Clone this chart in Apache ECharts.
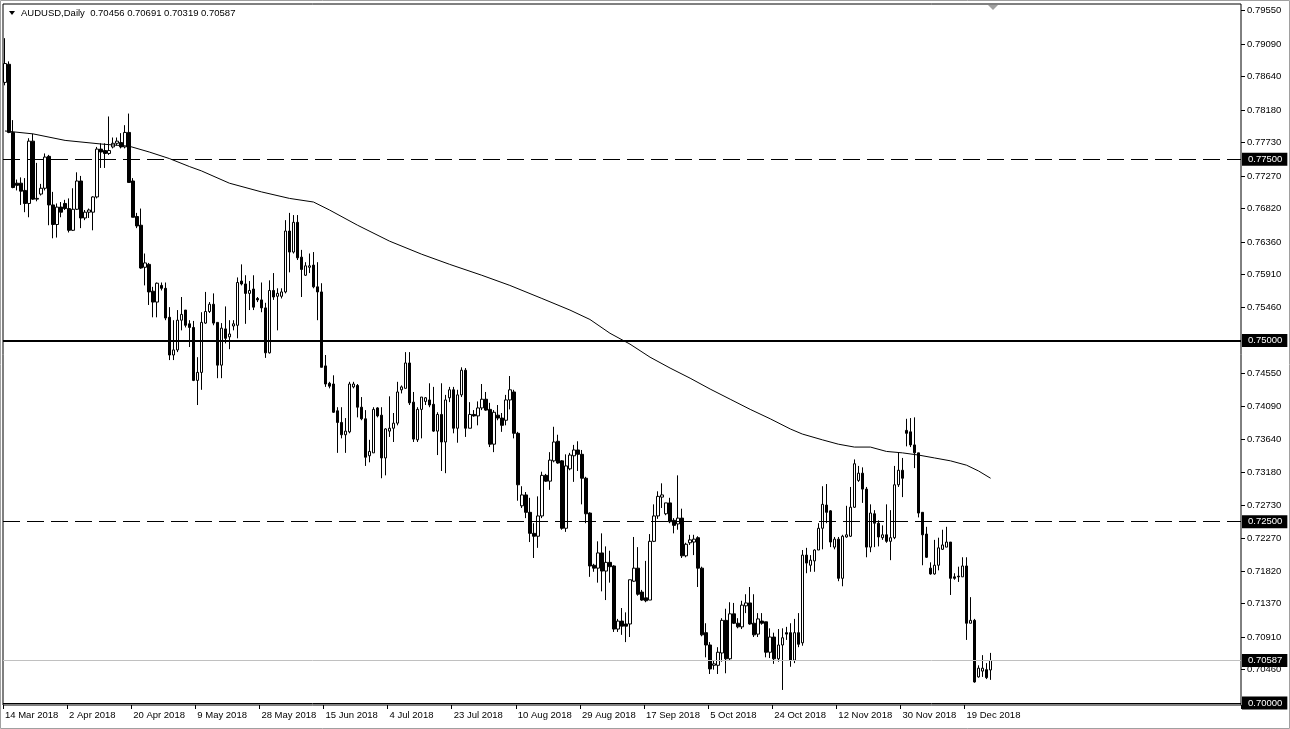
<!DOCTYPE html>
<html><head><meta charset="utf-8">
<script src="https://cdn.jsdelivr.net/npm/echarts@6/dist/echarts.min.js"></script>
<style>html,body{margin:0;padding:0;background:#fff}#c{width:1290px;height:729px}</style>
</head><body><div id="c"></div>
<script>
const symbolName = 'AUDUSD,Daily';
const dateLabels = ['14 Mar 2018','2 Apr 2018','20 Apr 2018','9 May 2018','28 May 2018','15 Jun 2018','4 Jul 2018','23 Jul 2018','10 Aug 2018','29 Aug 2018','17 Sep 2018','5 Oct 2018','24 Oct 2018','12 Nov 2018','30 Nov 2018','19 Dec 2018'];
const opens = [
.7856,.7881,.7787,.7717,.7717,.7707,.7689,.7775,.7695,.7702,
.7710,.7754,.7687,.7660,.7684,.7689,.7682,.7652,.7681,.7720,
.7669,.7677,.7677,.7698,.7764,.7762,.7758,.7767,.7772,.7773,
.7767,.7787,.7720,.7671,.7659,.7601,.7605,.7568,.7553,.7576,
.7572,.7532,.7480,.7487,.7528,.7542,.7523,.7518,.7445,.7456,
.7524,.7540,.7550,.7525,.7466,.7516,.7505,.7520,.7521,.7582,
.7578,.7565,.7571,.7558,.7556,.7545,.7483,.7569,.7561,.7561,
.7567,.7651,.7622,.7663,.7615,.7590,.7601,.7604,.7574,.7567,
.7465,.7441,.7440,.7403,.7387,.7370,.7374,.7436,.7438,.7408,
.7392,.7341,.7345,.7407,.7397,.7338,.7375,.7379,.7386,.7432,
.7434,.7469,.7415,.7363,.7405,.7416,.7418,.7412,.7375,.7398,
.7360,.7421,.7432,.7379,.7425,.7459,.7379,.7398,.7396,.7407,
.7419,.7405,.7357,.7397,.7393,.7390,.7418,.7429,.7372,.7272,
.7287,.7263,.7234,.7230,.7258,.7314,.7306,.7334,.7361,.7334,
.7241,.7323,.7341,.7349,.7343,.7310,.7262,.7190,.7186,.7207,
.7182,.7194,.7189,.7102,.7113,.7109,.7109,.7168,.7186,.7153,
.7145,.7142,.7223,.7258,.7284,.7261,.7276,.7252,.7247,.7255,
.7203,.7221,.7222,.7228,.7186,.7097,.7080,.7052,.7052,.7069,
.7114,.7061,.7123,.7110,.7105,.7134,.7138,.7110,.7095,.7113,
.7112,.7070,.7091,.7061,.7080,.7097,.7097,.7059,.7097,.7083,
.7204,.7190,.7196,.7211,.7241,.7273,.7265,.7215,.7226,.7172,
.7229,.7230,.7270,.7307,.7317,.7295,.7215,.7261,.7248,.7228,
.7232,.7223,.7228,.7301,.7321,.7376,.7374,.7356,.7345,.7263,
.7233,.7186,.7178,.7190,.7212,.7215,.7222,.7174,.7175,.7174,
.7189,.7110,.7114,.7036,.7044,.7046,.70456];
const highs = [
.7917,.7885,.7804,.7722,.7725,.7724,.7779,.7785,.7745,.7716,
.7758,.7756,.7705,.7689,.7691,.7694,.7696,.7710,.7732,.7727,
.7680,.7682,.7699,.7767,.7772,.7772,.7809,.7780,.7780,.7786,
.7797,.7813,.7724,.7676,.7682,.7620,.7607,.7574,.7580,.7580,
.7580,.7546,.7528,.7542,.7560,.7542,.7528,.7527,.7477,.7539,
.7567,.7553,.7565,.7525,.7524,.7547,.7528,.7528,.7587,.7605,
.7590,.7582,.7590,.7560,.7580,.7552,.7583,.7593,.7572,.7572,
.7666,.7676,.7673,.7673,.7625,.7608,.7620,.7622,.7608,.7579,
.7480,.7443,.7452,.7408,.7408,.7393,.7443,.7443,.7440,.7422,
.7404,.7363,.7408,.7408,.7408,.7379,.7423,.7400,.7443,.7438,
.7484,.7484,.7429,.7408,.7422,.7422,.7441,.7436,.7401,.7441,
.7425,.7436,.7436,.7432,.7463,.7462,.7415,.7404,.7416,.7440,
.7429,.7414,.7404,.7411,.7400,.7425,.7451,.7432,.7374,.7299,
.7291,.7283,.7248,.7285,.7319,.7316,.7346,.7381,.7370,.7335,
.7343,.7345,.7356,.7361,.7349,.7312,.7263,.7192,.7223,.7234,
.7216,.7210,.7190,.7116,.7131,.7125,.7170,.7229,.7215,.7156,
.7196,.7233,.7274,.7292,.7303,.7276,.7283,.7255,.7314,.7268,
.7221,.7232,.7232,.7230,.7188,.7110,.7084,.7059,.7077,.7117,
.7130,.7139,.7138,.7117,.7141,.7150,.7160,.7150,.7124,.7124,
.7112,.7103,.7097,.7102,.7103,.7105,.7110,.7116,.7124,.7211,
.7214,.7204,.7212,.7248,.7299,.7302,.7266,.7229,.7229,.7232,
.7272,.7298,.7336,.7327,.7325,.7298,.7274,.7266,.7252,.7245,
.7274,.7266,.7327,.7345,.7338,.7392,.7393,.7394,.7345,.7263,
.7243,.7194,.7225,.7228,.7239,.7243,.7222,.7179,.7188,.7201,
.7201,.7146,.7116,.7052,.7066,.7055,.70691];
const lows = [
.7852,.7786,.7710,.7707,.7687,.7677,.7670,.7694,.7692,.7700,
.7707,.7659,.7641,.7642,.7670,.7680,.7649,.7651,.7680,.7655,
.7666,.7669,.7652,.7696,.7738,.7738,.7756,.7765,.7769,.7765,
.7765,.7718,.7670,.7655,.7599,.7576,.7549,.7532,.7532,.7569,
.7528,.7473,.7473,.7484,.7514,.7518,.7491,.7444,.7411,.7432,
.7523,.7538,.7521,.7448,.7448,.7496,.7488,.7514,.7503,.7576,
.7523,.7542,.7542,.7553,.7539,.7476,.7482,.7556,.7514,.7558,
.7565,.7594,.7620,.7611,.7560,.7589,.7593,.7572,.7528,.7463,
.7436,.7434,.7400,.7345,.7365,.7345,.7372,.7434,.7394,.7390,
.7327,.7332,.7345,.7394,.7310,.7314,.7367,.7360,.7383,.7427,
.7434,.7411,.7360,.7360,.7365,.7411,.7408,.7374,.7342,.7320,
.7317,.7415,.7372,.7359,.7422,.7367,.7379,.7395,.7383,.7404,
.7403,.7353,.7346,.7390,.7374,.7383,.7405,.7365,.7279,.7269,
.7255,.7222,.7200,.7214,.7255,.7305,.7294,.7332,.7330,.7239,
.7236,.7321,.7305,.7320,.7274,.7248,.7174,.7181,.7166,.7154,
.7142,.7166,.7098,.7098,.7094,.7084,.7091,.7167,.7148,.7141,
.7139,.7142,.7222,.7254,.7269,.7259,.7248,.7234,.7239,.7200,
.7201,.7218,.7204,.7160,.7092,.7063,.7040,.7046,.7040,.7057,
.7041,.7058,.7109,.7103,.7102,.7124,.7108,.7091,.7091,.7108,
.7063,.7062,.7054,.7057,.7018,.7087,.7050,.7055,.7077,.7079,
.7179,.7181,.7181,.7211,.7212,.7248,.7215,.7212,.7168,.7161,
.7228,.7229,.7269,.7305,.7276,.7201,.7208,.7215,.7216,.7225,
.7221,.7197,.7226,.7298,.7284,.7354,.7353,.7324,.7256,.7190,
.7200,.7177,.7177,.7183,.7211,.7215,.7149,.7170,.7167,.7174,
.7087,.7110,.7028,.7035,.7036,.7033,.70319];
const closes = [
.7882,.7787,.7711,.7714,.7706,.7689,.7775,.7695,.7696,.7710,
.7753,.7687,.7660,.7684,.7677,.7682,.7652,.7681,.7720,.7669,
.7677,.7680,.7698,.7764,.7760,.7758,.7762,.7772,.7775,.7767,
.7787,.7718,.7670,.7658,.7600,.7607,.7567,.7553,.7579,.7572,
.7531,.7480,.7487,.7528,.7536,.7521,.7518,.7445,.7456,.7525,
.7540,.7550,.7524,.7466,.7517,.7503,.7509,.7523,.7580,.7578,
.7565,.7569,.7546,.7556,.7545,.7483,.7569,.7560,.7565,.7567,
.7651,.7622,.7663,.7614,.7598,.7603,.7603,.7574,.7567,.7463,
.7440,.7437,.7401,.7387,.7370,.7375,.7440,.7440,.7408,.7392,
.7339,.7347,.7405,.7396,.7338,.7378,.7379,.7386,.7429,.7436,
.7469,.7414,.7364,.7405,.7422,.7421,.7411,.7375,.7398,.7360,
.7418,.7432,.7379,.7425,.7459,.7379,.7398,.7396,.7407,.7419,
.7404,.7357,.7401,.7393,.7383,.7418,.7432,.7372,.7301,.7287,
.7263,.7234,.7230,.7258,.7314,.7306,.7335,.7360,.7331,.7241,
.7327,.7342,.7349,.7343,.7310,.7261,.7189,.7186,.7207,.7182,
.7194,.7188,.7102,.7113,.7106,.7106,.7170,.7186,.7150,.7142,
.7141,.7223,.7258,.7285,.7287,.7276,.7250,.7245,.7255,.7203,
.7219,.7225,.7226,.7186,.7094,.7080,.7047,.7054,.7070,.7114,
.7061,.7123,.7110,.7105,.7135,.7138,.7109,.7094,.7116,.7110,
.7070,.7091,.7061,.7080,.7090,.7095,.7059,.7097,.7081,.7204,
.7193,.7197,.7211,.7241,.7274,.7263,.7222,.7226,.7172,.7230,
.7232,.7270,.7330,.7317,.7295,.7215,.7262,.7248,.7229,.7232,
.7223,.7228,.7301,.7321,.7310,.7372,.7356,.7345,.7262,.7232,
.7201,.7178,.7190,.7214,.7218,.7222,.7172,.7172,.7174,.7189,
.7110,.7114,.7029,.7048,.7048,.7035,.70587];
// moving average read at selected bars (bar index, value)
const maIndex = [0,7,15,24,31,36,41,46,49,56,64,71,77,81,88,96,104,111,119,126,134,141,146,151,156,161,166,171,176,181,186,191,196,199,204,208,212,216,220,224,228,232,236,240,243,246];
const maValues = [.7789,.7785,.7776,.7771,.7768,.7760,.7751,.7740,.7734,.7717,.7705,.7696,.7691,.7680,.7659,.7637,.7619,.7605,.7590,.7576,.7558,.7542,.7529,.7510,.7495,.7477,.7462,.7448,.7433,.7419,.7405,.7392,.7378,.7371,.7363,.7357,.7353,.7353,.7347,.7345,.7342,.7338,.7334,.7328,.7320,.7310];
const yTickValues = [0.70460,0.70910,0.71370,0.71820,0.72270,0.72730,0.73180,0.73640,0.74090,0.74550,0.75460,0.75910,0.76360,0.76820,0.77270,0.77730,0.78180,0.78640,0.79090,0.79550];
const dashedLevels = [0.7750, 0.7250];
const solidLevels = [0.7500, 0.7000];
const currentPrice = 0.70587;
const yMin = 0.699724, yMax = 0.796414;
const slotCount = 309;
const labelEvery = 16;

const FONT = 'Liberation Sans';
const FS = 9.5;
const slots = Array.from({length: slotCount}, (_, i) => String(i));
const candles = opens.map((o, i) => [o, closes[i], lows[i], highs[i]]);
const maData = maIndex.map((k, j) => [k, maValues[j]]);
const showDate = (i) => i % labelEvery === 0 && i / labelEvery < dateLabels.length;
const last = opens.length - 1;
const header = symbolName + '  ' + [opens[last], highs[last], lows[last], closes[last]].map(v => v.toFixed(5)).join(' ');

const levelLabel = {show: true, position: 'end', distance: 1, backgroundColor: '#000', color: '#fff',
  fontFamily: FONT, fontSize: FS, padding: [2, 5, 1, 6], formatter: p => Number(p.value).toFixed(5)};

const markData = []
  .concat(dashedLevels.map(v => ({yAxis: v, lineStyle: {type: [17, 7], color: '#000', width: 1}})))
  .concat(solidLevels.map((v, k) => ({yAxis: v, lineStyle: {type: 'solid', color: '#000', width: k === 0 ? 2 : 1}})))
  .concat([{yAxis: currentPrice, lineStyle: {type: 'solid', color: '#c0c0c0', width: 1}}]);

const chart = echarts.init(document.getElementById('c'));
chart.setOption({
  animation: false,
  backgroundColor: '#fff',
  grid: {left: 3, right: 49, top: 4, bottom: 24, show: true, borderColor: '#000', borderWidth: 1, backgroundColor: 'transparent'},
  xAxis: {
    type: 'category', data: slots, boundaryGap: true,
    axisLine: {show: false},
    axisTick: {show: true, interval: (i) => showDate(i), length: 4, lineStyle: {color: '#000'}},
    axisLabel: {interval: (i) => showDate(i), formatter: (v) => dateLabels[Number(v) / labelEvery] || '',
      align: 'left', color: '#000', fontFamily: FONT, fontSize: FS, margin: 5},
    splitLine: {show: false}
  },
  yAxis: {
    type: 'value', position: 'right', min: yMin, max: yMax,
    axisLine: {show: false},
    axisTick: {show: true, customValues: yTickValues, length: 4, lineStyle: {color: '#000'}},
    axisLabel: {customValues: yTickValues, formatter: v => Number(v).toFixed(5), color: '#000', fontFamily: FONT, fontSize: FS, margin: 6},
    splitLine: {show: false}
  },
  series: [
    {
      type: 'candlestick', data: candles, barWidth: 3,
      itemStyle: {color: '#fff', color0: '#000', borderColor: '#000', borderColor0: '#000', borderColorDoji: '#000', borderWidth: 1},
      markLine: {silent: true, precision: 5, symbol: ['none', 'none'], animation: false, label: levelLabel, data: markData}
    },
    {
      type: 'line', data: maData, symbol: 'none', smooth: false, z: 5,
      lineStyle: {color: '#000', width: 1}
    }
  ],
  graphic: [
    {type: 'rect', shape: {x: 0.5, y: 0.5, width: 1289, height: 728}, style: {fill: 'none', stroke: '#a0a0a0', lineWidth: 1}, silent: true, z: -10},
    {type: 'polygon', shape: {points: [[9, 11], [15, 11], [12, 15]]}, style: {fill: '#000'}, silent: true},
    {type: 'text', left: 21, top: 8, style: {text: header, font: FS + 'px "Liberation Sans"', fill: '#000'}, silent: true},
    {type: 'polygon', shape: {points: [[988, 5], [998, 5], [993, 10]]}, style: {fill: '#a0a0a0'}, silent: true}
  ]
});
</script>
</body></html>
